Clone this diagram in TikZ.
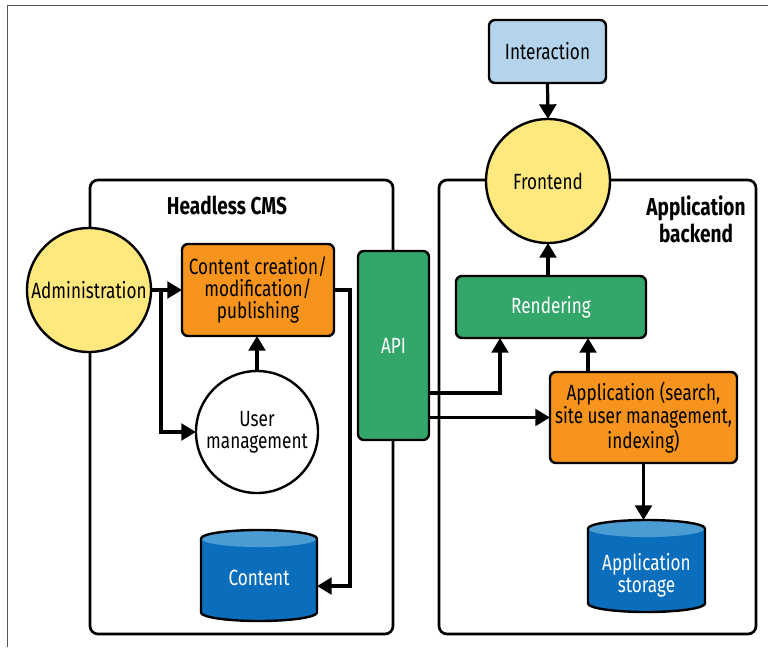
\documentclass[tikz,border=0pt]{standalone}
\usepackage{fontspec}
\setmainfont[FakeStretch=0.78]{Fira Sans}
\usetikzlibrary{arrows.meta,calc}
\definecolor{cyellow}{HTML}{FFE97F}
\definecolor{corange}{HTML}{F7941D}
\definecolor{cgreen}{HTML}{33A66A}
\definecolor{clblue}{HTML}{B3D4EA}
\definecolor{dbbody}{HTML}{0A6EBD}
\definecolor{dbtop}{HTML}{4B9CD3}
\definecolor{frame}{HTML}{555555}
\newcommand\txtfont{\fontsize{16.5pt}{16.3pt}\selectfont}
% outline of a cylinder around a (borderless) node
\newcommand\dbpath[1]{%
  let \p1=(#1.north west), \p2=(#1.south east), \n1={(\x2-\x1)/2} in
    (\x1,\y1-6.4pt) -- (\x1,\y2+6.4pt)
      arc[start angle=180,end angle=360,x radius=\n1,y radius=6.4pt]
      -- (\x2,\y1-6.4pt)
      arc[start angle=0,end angle=180,x radius=\n1,y radius=6.4pt] -- cycle}
\newcommand\dbcylinder[1]{%
  \fill[dbbody] \dbpath{#1};
  \fill[dbtop] let \p1=(#1.north west), \p2=(#1.south east), \n1={(\x2-\x1)/2} in
    (\x1+\n1,\y1-6.4pt) ellipse[x radius=\n1,y radius=6.4pt];
  \draw[black,line width=1.8pt,line join=round] \dbpath{#1};}
\begin{document}
\begin{tikzpicture}[x=0.75pt,y=-0.75pt,
  every node/.style={inner sep=0pt,outer sep=0pt,font=\txtfont,align=center},
  boxnode/.style={rectangle,rounded corners=4.5pt,draw=black,line width=1.8pt},
  roundnode/.style={circle,draw=black,line width=1.8pt},
  dbnode/.style={rectangle,text=white},
  container/.style={draw=black,line width=2pt,rounded corners=6pt},
  conn/.style={draw=black,line width=2.4pt,line join=miter,-{Triangle[length=11pt,width=12.5pt]}},
  grouplabel/.style={font=\fontsize{18.3pt}{20.5pt}\selectfont\bfseries}]
\useasboundingbox (0,0) rectangle (768,647);

% page frame
\draw[frame,line width=1.1pt] (7.5,647) -- (7.5,5.5) -- (768,5.5);

% the two groups
\draw[container] (90,180) rectangle (393,634);
\draw[container] (439,180) rectangle (756,634);
\node[grouplabel] (cmslabel) at (227,205) {Headless CMS};
\node[grouplabel] (backlabel) at (696,219) {Application\\backend};

% CMS side
\node[roundnode,fill=cyellow,minimum size=93pt] (admin) at (89,290) {Administration};
\node[boxnode,fill=corange,minimum width=114pt,minimum height=69pt] (cc) at (258,290)
  {Content creation/\\modification/\\publishing};
\node[roundnode,fill=white,minimum size=91.5pt] (um) at (257,432) {User\\management};
\node[dbnode,minimum width=87pt,minimum height=68.25pt] (content) at (259,575.5) {};
\dbcylinder{content}
\node[text=white] (contentlabel) at (259,578) {Content};

% API
\node[boxnode,fill=cgreen,text=white,minimum width=53.25pt,minimum height=141.75pt] (api) at (393.5,345.5) {API};

% frontend side
\node[boxnode,fill=clblue,minimum width=87.75pt,minimum height=47.25pt] (int) at (547.5,51.5) {Interaction};
\node[roundnode,fill=cyellow,minimum size=93pt] (fe) at (548,181) {Frontend};
\node[boxnode,fill=cgreen,text=white,minimum width=142.5pt,minimum height=46.5pt] (rend) at (551,307) {Rendering};
\node[boxnode,fill=corange,minimum width=140.25pt,minimum height=68.25pt] (app) at (643.5,417.5)
  {Application (search,\\site user management,\\indexing)};
\node[dbnode,minimum width=87.75pt,minimum height=69pt] (store) at (646.5,566) {};
\dbcylinder{store}
\node[text=white] (storelabel) at (646.5,575) {Application\\storage};

% connectors
\coordinate (branch) at (161,290);
\coordinate (ccout) at (350,290);
\draw[conn] (int.south) -- (fe.north);
\draw[conn] (fe.south |- rend.north) -- (fe.south);
\draw[conn] (admin.east) -- (cc.west);
\draw[conn] (branch) |- (um.west);
\draw[conn] (um.north) -- (um.north |- cc.south);
\draw[conn] (cc.east) -- (ccout) |- ([yshift=-7.9pt]content.east);
\draw[conn] ([yshift=-35.6pt]api.east) -| ([xshift=-38.25pt]rend.south);
\draw[conn] (api.east |- app.west) -- (app.west);
\draw[conn] ([xshift=-41.6pt]app.north) -- ([xshift=-41.6pt]app.north |- rend.south);
\draw[conn] (app.south) -- (app.south |- store.north);
\end{tikzpicture}
\end{document}
